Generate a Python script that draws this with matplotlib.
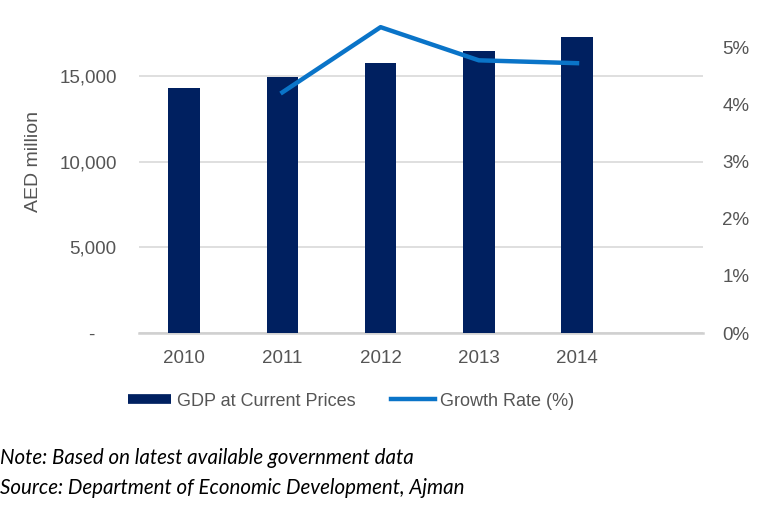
import matplotlib
matplotlib.use("Agg")
import matplotlib.pyplot as plt
from matplotlib.lines import Line2D
from matplotlib.ticker import FuncFormatter

years = ["2010", "2011", "2012", "2013", "2014"]
gdp = [14300, 14950, 15750, 16450, 17250]          # AED million
growth_years = ["2011", "2012", "2013", "2014"]
growth = [4.21, 5.35, 4.77, 4.72]                   # %

navy = "#002060"
blue = "#0A74C8"
grey_text = "#555555"

plt.rcParams["font.family"] = ["Liberation Sans", "DejaVu Sans"]

fig = plt.figure(figsize=(7.68, 5.27), dpi=100)
ax = fig.add_axes([0.181, 0.368, 0.734, 0.651])

x = list(range(len(years)))
ax.bar(x, gdp, width=0.32, color=navy, zorder=3)
ax.set_xlim(-0.46, 5.28)
ax.set_ylim(0, 20000)
ax.set_yticks([0, 5000, 10000, 15000, 20000])
ax.yaxis.set_major_formatter(FuncFormatter(lambda v, p: "-    " if v == 0 else f"{v:,.0f}"))
ax.set_xticks(x)
ax.set_xticklabels(years)
ax.grid(axis="y", color="#d9d9d9", linewidth=1.2, zorder=0)
for s in ["top", "right", "left"]:
    ax.spines[s].set_visible(False)
ax.spines["bottom"].set_color("#d0d0d0")
ax.spines["bottom"].set_linewidth(1.8)
ax.tick_params(axis="both", length=0, labelsize=13.5, colors=grey_text)
ax.tick_params(axis="y", pad=16)
ax.tick_params(axis="x", pad=12)
ax.set_ylabel("AED million", fontsize=14, color=grey_text, labelpad=12)

ax2 = ax.twinx()
gx = [years.index(y) for y in growth_years]
ax2.plot(gx, growth, color=blue, linewidth=3.2, zorder=4)
ax2.set_ylim(0, 6)
ax2.set_yticks([0, 1, 2, 3, 4, 5])
ax2.yaxis.set_major_formatter(FuncFormatter(lambda v, p: f"{v:.0f}%"))
ax2.tick_params(axis="y", length=0, labelsize=13.5, colors=grey_text, pad=14)
for s in ax2.spines.values():
    s.set_visible(False)

handles = [Line2D([0], [0], color=navy, linewidth=7, solid_capstyle="butt"),
           Line2D([0], [0], color=blue, linewidth=3.2)]
fig.legend(handles, ["GDP at Current Prices", "Growth Rate (%)"],
           loc="center", bbox_to_anchor=(351 / 768, 1 - 401 / 527), ncol=2,
           frameon=False, fontsize=13, handlelength=2.4, handletextpad=0.3,
           columnspacing=2.0, labelcolor=grey_text)

fig.text(0.0, 1 - 458 / 527, "Note: Based on latest available government data",
         fontsize=14.8, style="italic", family="Lato", va="center", ha="left")
fig.text(0.0, 1 - 488 / 527, "Source: Department of Economic Development, Ajman",
         fontsize=14.8, style="italic", family="Lato", va="center", ha="left")

fig.savefig("out.png", dpi=100)
